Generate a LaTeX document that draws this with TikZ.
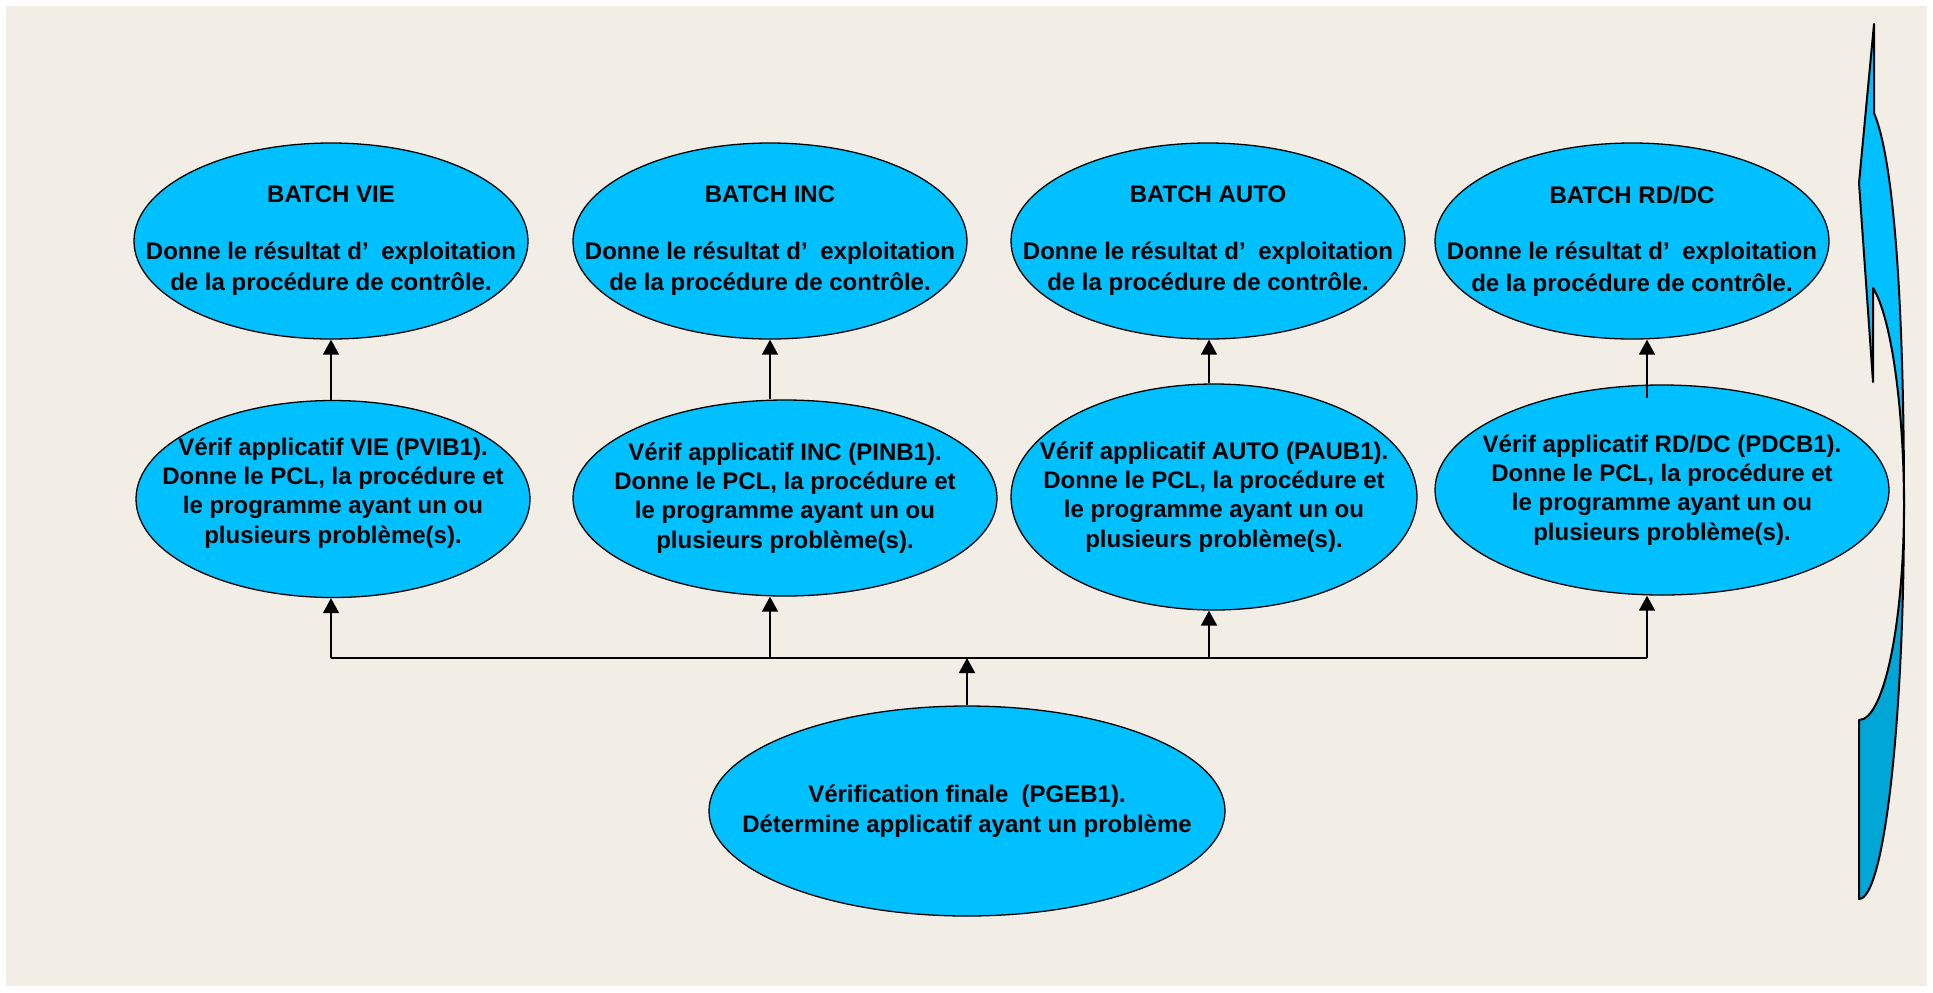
\documentclass[tikz,border=0pt]{standalone}
\usepackage{fontspec}
\setmainfont{Liberation Sans}
\usetikzlibrary{arrows.meta, calc, shapes.geometric}
\definecolor{pagebg}{HTML}{F2EEE6}
\definecolor{bubfill}{HTML}{00C0FF}
\definecolor{bubback}{HTML}{00A6D6}
\tikzset{
  bubble/.style  = {ellipse, draw=black, fill=bubfill, line width=0.65pt,
                    inner sep=-40pt, align=center,
                    font=\bfseries\fontsize{12}{14.6}\selectfont},
  batch/.style   = {bubble, minimum width=197pt, minimum height=98pt,
                    font=\bfseries\fontsize{12}{15.8}\selectfont},
  link/.style    = {draw=black, line width=0.85pt,
                    -{Triangle[length=7.5pt, width=8pt]}},
  wire/.style    = {draw=black, line width=0.85pt},
  bentarr/.style = {draw=black, line width=1pt, line join=round},
}

\begin{document}
\begin{tikzpicture}[x=0.5pt, y=-0.5pt]
        % page
        \useasboundingbox (0,0) rectangle (1933,992);
        \fill[white] (0,0) rectangle (1933,992);
        \fill[pagebg] (6,6) rectangle (1927,986);

        % batch results
        \node[batch] (bvie) at (331,241)
             {BATCH VIE\\[12.5pt]Donne le résultat d’\kern3pt\ exploitation\\de la procédure de contrôle.};
        \node[batch] (binc) at (770,241)
             {BATCH INC\\[12.5pt]Donne le résultat d’\kern3pt\ exploitation\\de la procédure de contrôle.};
        \node[batch] (bauto) at (1208,241)
             {BATCH AUTO\\[12.5pt]Donne le résultat d’\kern3pt\ exploitation\\de la procédure de contrôle.};
        \node[batch] (brddc) at (1632,241)
             {BATCH RD/DC\\[12.5pt]Donne le résultat d’\kern3pt\ exploitation\\de la procédure de contrôle.};

        % applicative checks
        \node[bubble, minimum width=197pt, minimum height=98.5pt] (pvib) at (333,499)
             {Vérif applicatif VIE (PVIB1).\\Donne le PCL, la procédure et\\le programme ayant un ou\\plusieurs problème(s).\\[-6pt]};
        \node[bubble, minimum width=212pt, minimum height=98pt] (pinb) at (785,498)
             {Vérif applicatif INC (PINB1).\\Donne le PCL, la procédure et\\le programme ayant un ou\\plusieurs problème(s).};
        \node[bubble, minimum width=203pt, minimum height=113pt] (paub) at (1214,497)
             {Vérif applicatif AUTO (PAUB1).\\Donne le PCL, la procédure et\\le programme ayant un ou\\plusieurs problème(s).};
        \node[bubble, minimum width=227pt, minimum height=105pt] (pdcb) at (1662,490)
             {Vérif applicatif RD/DC (PDCB1).\\Donne le PCL, la procédure et\\le programme ayant un ou\\plusieurs problème(s).};

        % final check
        \node[bubble, minimum width=258pt, minimum height=105pt,
              font=\bfseries\fontsize{12}{14.85}\selectfont] (pgeb) at (967,811)
             {Vérification finale\ \ (PGEB1).\\Détermine applicatif ayant un problème};

        % bus
        \coordinate (c1) at (331,658);
        \coordinate (c2) at (770,658);
        \coordinate (c3) at (1209,658);
        \coordinate (c4) at (1647,658);
        \draw[wire] (c1) -- (c4);
        \draw[link] (pgeb.north) -- (pgeb.north |- c1);

        \draw[link] (c1) -- (c1 |- pvib.south);
        \draw[link] (c2) -- (c2 |- pinb.south);
        \draw[link] (c3) -- (c3 |- paub.south);
        \draw[link] (c4) -- (c4 |- pdcb.south);

        \draw[link] (c1 |- pvib.north) -- (c1 |- bvie.south);
        \draw[link] (c2 |- pinb.north) -- (c2 |- binc.south);
        \draw[link] (c3 |- paub.north) -- (c3 |- bauto.south);
        \draw[link] ($(c4 |- pdcb.north)+(0,14)$) -- (c4 |- brddc.south);

        % curved arrow on the right
        \filldraw[bentarr, fill=bubback] (1904,506)
             .. controls (1904,723) and (1884,899) .. (1859,899) -- (1859,720)
             .. controls (1883.9,720) and (1904,623.3) .. (1904,504) -- cycle;
        \filldraw[bentarr, fill=bubfill] (1874,24) -- (1874,113)
             .. controls (1897,168) and (1904,339.5) .. (1904,506)
             .. controls (1904,410.6) and (1891.5,317.1) .. (1873,288)
             -- (1873,382) -- (1859,183) -- cycle;
    \end{tikzpicture}
\end{document}
